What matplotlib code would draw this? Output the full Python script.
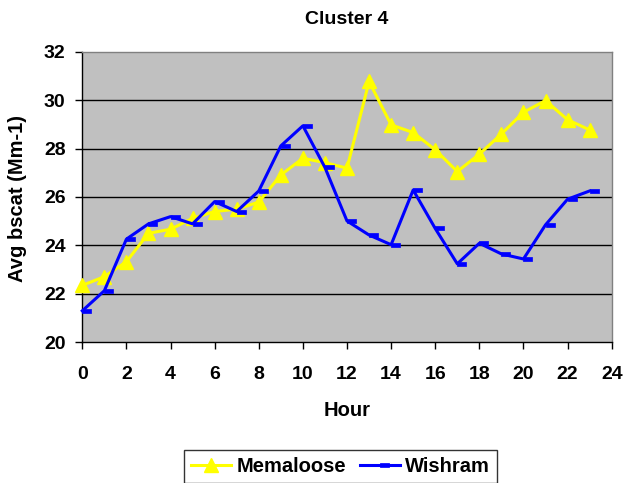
import matplotlib
matplotlib.use("Agg")
import matplotlib.pyplot as plt
from matplotlib.path import Path
from matplotlib.lines import Line2D

hours = list(range(24))
memaloose = [22.35, 22.71, 23.33, 24.5, 24.67, 25.12, 25.4, 25.5, 25.79, 26.91, 27.6, 27.42,
             27.19, 30.77, 28.98, 28.66, 27.95, 27.05, 27.77, 28.6, 29.5, 29.98, 29.19, 28.77]
wishram = [21.3, 22.13, 24.26, 24.89, 25.19, 24.89, 25.81, 25.4, 26.25, 28.11, 28.94, 27.22,
           25.01, 24.43, 24.03, 26.29, 24.7, 23.24, 24.09, 23.65, 23.44, 24.85, 25.91, 26.25]
xticks = list(range(0, 25, 2))
yticks = list(range(20, 33, 2))

plt.rcParams['font.family'] = ['Liberation Sans', 'DejaVu Sans']
plt.rcParams['font.weight'] = 'bold'

W, H = 626, 483
fig = plt.figure(figsize=(W / 100, H / 100), dpi=100)
ax = fig.add_axes([82.3 / W, 1 - 342.3 / H, (611.7 - 82.3) / W, (342.3 - 51.7) / H])
ax.set_facecolor('#C0C0C0')

h = 0.17
dash = Path([(0, -h), (1, -h), (1, h), (0, h), (0, -h)],
            [Path.MOVETO, Path.LINETO, Path.LINETO, Path.LINETO, Path.CLOSEPOLY])

for y in yticks[1:-1]:
    ax.axhline(y, color='black', lw=1.0, zorder=1)

ax.plot(hours, memaloose, color='#FFFF00', lw=2.2, marker='^', markersize=10,
        markeredgecolor='#FFFF00', markerfacecolor='#FFFF00', zorder=3, clip_on=False)
ax.plot(hours, wishram, color='#0000FF', lw=2.2, marker=dash, markersize=13,
        markeredgecolor='#0000FF', markerfacecolor='#0000FF', markeredgewidth=0.5,
        zorder=4, clip_on=False)

ax.set_xlim(0, 24)
ax.set_ylim(20, 32)
ax.set_xticks(xticks)
ax.set_yticks(yticks)
ax.tick_params(axis='both', direction='out', length=5, width=1, labelsize=14, colors='black')
ax.tick_params(axis='x', pad=12)
ax.tick_params(axis='y', pad=7)
for lab in ax.get_xticklabels() + ax.get_yticklabels():
    lab.set_fontweight('bold')

ax.spines['left'].set_color('black')
ax.spines['bottom'].set_color('black')
ax.spines['top'].set_color('#808080')
ax.spines['right'].set_color('#808080')
for s in ax.spines.values():
    s.set_linewidth(1.0)

fig.text(347 / W, 1 - 20 / H, 'Cluster 4', fontsize=14, fontweight='bold',
         ha='center', va='center')
fig.text(347 / W, 1 - 411 / H, 'Hour', fontsize=14.5, fontweight='bold',
         ha='center', va='center')
fig.text(18 / W, 1 - 198 / H, 'Avg bscat (Mm-1)', fontsize=14.5, fontweight='bold',
         ha='center', va='center', rotation=90)

h1 = Line2D([], [], color='#FFFF00', lw=2.2, marker='^', markersize=10)
h2 = Line2D([], [], color='#0000FF', lw=2.2, marker=dash, markersize=13, markeredgewidth=0.5)
leg = fig.legend([h1, h2], ['Memaloose', 'Wishram'], loc='upper center',
                 bbox_to_anchor=(340.5 / W, 1 - 450 / H), ncol=2, fontsize=14.5,
                 frameon=True, fancybox=False, edgecolor='black', handlelength=2.0,
                 columnspacing=0.7, handletextpad=0.25, borderpad=0.35,
                 borderaxespad=0)
leg.get_frame().set_linewidth(1.0)
for t in leg.get_texts():
    t.set_fontweight('bold')

fig.savefig('out.png', dpi=100)
